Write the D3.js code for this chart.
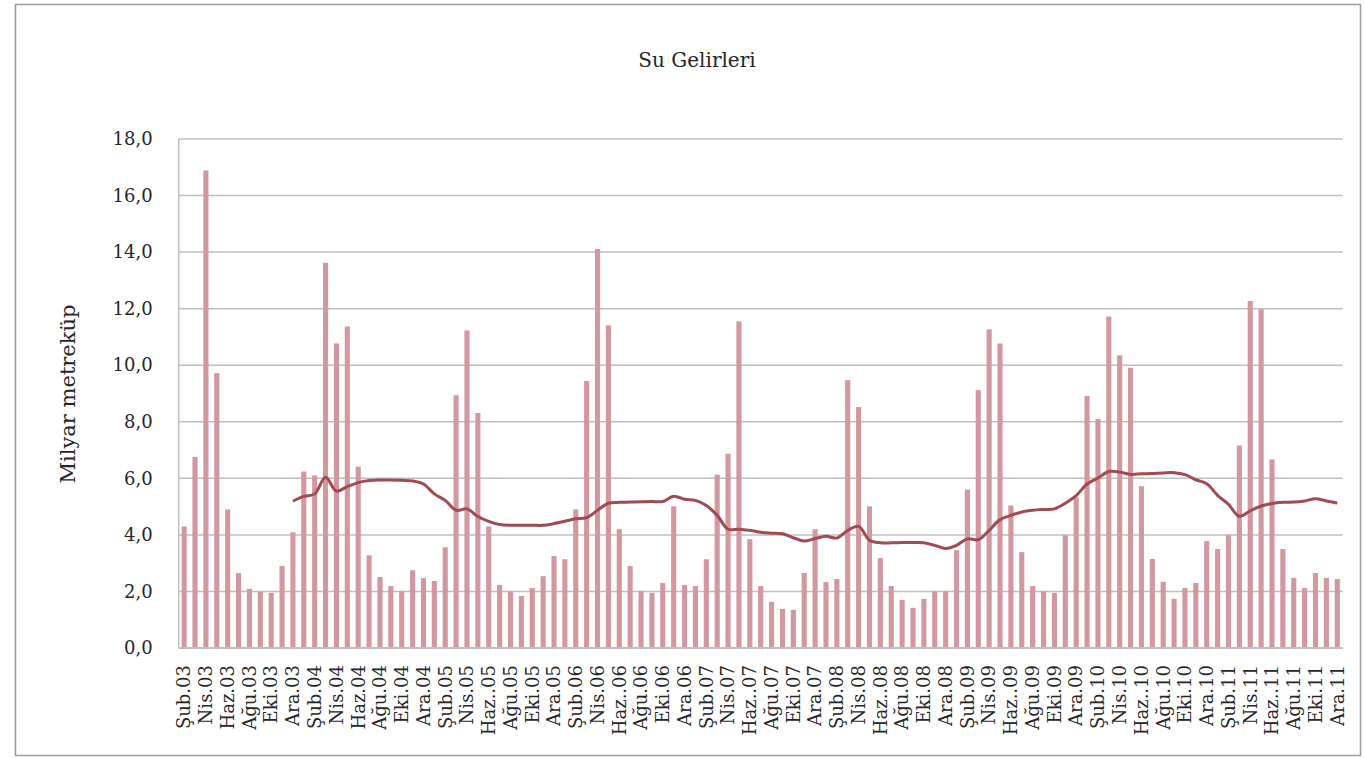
<!DOCTYPE html>
<html lang="tr">
<head>
<meta charset="UTF-8">
<title>Su Gelirleri</title>
<style>
    body {
        margin: 0;
        padding: 0;
        background-color: #fff;
    }
    svg text {
        font-family: "DejaVu Serif", serif;
        fill: #262626;
    }
</style>
</head>
<body>
<svg id="chart" width="1364" height="758"></svg>

<script src="https://d3js.org/d3.v7.min.js"></script>
<script>
    // kategoriler (Şub.03 - Ara.11)
    var categories = [
        "Şub.03", "Mar.03", "Nis.03", "May.03", "Haz.03", "Tem.03", "Ağu.03", "Eyl.03", "Eki.03", "Kas.03", "Ara.03",
        "Oca.04", "Şub.04", "Mar.04", "Nis.04", "May.04", "Haz.04", "Tem.04", "Ağu.04", "Eyl.04", "Eki.04", "Kas.04", "Ara.04",
        "Oca.05", "Şub.05", "Mar.05", "Nis.05", "May.05", "Haz..05", "Tem.05", "Ağu.05", "Eyl.05", "Eki.05", "Kas.05", "Ara.05",
        "Oca.06", "Şub.06", "Mar.06", "Nis.06", "May.06", "Haz..06", "Tem.06", "Ağu.06", "Eyl.06", "Eki.06", "Kas.06", "Ara.06",
        "Oca.07", "Şub.07", "Mar.07", "Nis.07", "May.07", "Haz..07", "Tem.07", "Ağu.07", "Eyl.07", "Eki.07", "Kas.07", "Ara.07",
        "Oca.08", "Şub.08", "Mar.08", "Nis.08", "May.08", "Haz..08", "Tem.08", "Ağu.08", "Eyl.08", "Eki.08", "Kas.08", "Ara.08",
        "Oca.09", "Şub.09", "Mar.09", "Nis.09", "May.09", "Haz..09", "Tem.09", "Ağu.09", "Eyl.09", "Eki.09", "Kas.09", "Ara.09",
        "Oca.10", "Şub.10", "Mar.10", "Nis.10", "May.10", "Haz..10", "Tem.10", "Ağu.10", "Eyl.10", "Eki.10", "Kas.10", "Ara.10",
        "Oca.11", "Şub.11", "Mar.11", "Nis.11", "May.11", "Haz..11", "Tem.11", "Ağu.11", "Eyl.11", "Eki.11", "Kas.11", "Ara.11"
    ];

    // aylık su geliri (milyar m3)
    var monthly = [
        4.30, 6.76, 16.89, 9.72, 4.90, 2.65, 2.09, 1.99, 1.95, 2.90, 4.09,
        6.24, 6.10, 13.62, 10.77, 11.37, 6.41, 3.28, 2.51, 2.19, 2.00, 2.75, 2.47,
        2.37, 3.56, 8.94, 11.23, 8.31, 4.30, 2.23, 2.00, 1.84, 2.12, 2.54, 3.25,
        3.14, 4.90, 9.44, 14.11, 11.41, 4.20, 2.90, 2.02, 1.95, 2.30, 5.01, 2.23,
        2.19, 3.14, 6.13, 6.87, 11.55, 3.85, 2.19, 1.63, 1.38, 1.35, 2.65, 4.20,
        2.33, 2.44, 9.47, 8.52, 5.01, 3.18, 2.19, 1.70, 1.42, 1.74, 2.00, 2.00,
        3.46, 5.60, 9.12, 11.27, 10.77, 5.04, 3.39, 2.19, 2.00, 1.95, 3.99, 5.33,
        8.91, 8.10, 11.72, 10.35, 9.91, 5.72, 3.15, 2.34, 1.74, 2.12, 2.30, 3.78,
        3.50, 3.99, 7.16, 12.27, 11.98, 6.67, 3.50, 2.48, 2.12, 2.65, 2.48, 2.44
    ];

    // hareketli ortalama (Ara.03'ten itibaren)
    var average = [
        null, null, null, null, null, null, null, null, null, null, 5.19,
        5.36, 5.45, 6.04, 5.55, 5.71, 5.85, 5.92, 5.94, 5.94, 5.93, 5.91, 5.80,
        5.45, 5.22, 4.87, 4.92, 4.65, 4.48, 4.37, 4.34, 4.34, 4.34, 4.34, 4.40,
        4.48, 4.57, 4.61, 4.87, 5.12, 5.15, 5.16, 5.17, 5.18, 5.18, 5.37, 5.26,
        5.22, 5.04, 4.69, 4.20, 4.20, 4.16, 4.09, 4.06, 4.04, 3.90, 3.78, 3.87,
        3.95, 3.89, 4.16, 4.30, 3.81, 3.72, 3.72, 3.73, 3.73, 3.72, 3.63, 3.52,
        3.63, 3.86, 3.83, 4.16, 4.54, 4.69, 4.81, 4.87, 4.90, 4.92, 5.12, 5.39,
        5.80, 6.01, 6.24, 6.22, 6.14, 6.16, 6.17, 6.19, 6.20, 6.13, 5.95, 5.81,
        5.40, 5.08, 4.66, 4.85, 5.02, 5.11, 5.15, 5.16, 5.20, 5.28, 5.20, 5.13
    ];

    var yTicks = [0, 2, 4, 6, 8, 10, 12, 14, 16, 18];

    var svg = d3.select("#chart");

    // çerçeve
    svg.append("rect")
        .attr("x", 15.5)
        .attr("y", 4.5)
        .attr("width", 1345)
        .attr("height", 751)
        .attr("fill", "none")
        .attr("stroke", "#9a9a9a")
        .attr("stroke-width", 1.5);

    var plotLeft = 178.7, plotRight = 1342.7, plotTop = 139, plotBottom = 648;

    var xScale = d3.scaleBand()
        .domain(categories)
        .range([plotLeft, plotRight])
        .paddingInner(0.53)
        .paddingOuter(0.265);

    var yScale = d3.scaleLinear()
        .domain([0, 18])
        .range([plotBottom, plotTop]);

    var fmt = d3.formatLocale({decimal: ",", thousands: ".", grouping: [3], currency: ["", ""]}).format(".1f");

    // yatay çizgiler
    svg.append("g")
        .selectAll("line")
        .data(yTicks)
        .join("line")
        .attr("x1", plotLeft)
        .attr("x2", plotRight)
        .attr("y1", d => yScale(d))
        .attr("y2", d => yScale(d))
        .attr("stroke", "#bfbfbf")
        .attr("stroke-width", 1.5);

    // sol eksen çizgisi
    svg.append("line")
        .attr("x1", plotLeft)
        .attr("x2", plotLeft)
        .attr("y1", plotTop)
        .attr("y2", plotBottom)
        .attr("stroke", "#bfbfbf")
        .attr("stroke-width", 1.5);

    var yAxis = d3.axisLeft(yScale)
        .tickValues(yTicks)
        .tickFormat(fmt)
        .tickSize(0)
        .tickPadding(26);

    svg.append("g")
        .attr("transform", "translate(" + plotLeft + ",0)")
        .call(yAxis)
        .call(g => g.select(".domain").remove())
        .selectAll("text")
        .attr("font-family", "DejaVu Serif")
        .attr("font-size", 18)
        .attr("fill", "#262626");

    // çubuklar
    svg.append("g")
        .selectAll("rect")
        .data(monthly)
        .join("rect")
        .attr("x", (d, i) => xScale(categories[i]))
        .attr("width", xScale.bandwidth())
        .attr("y", d => yScale(d))
        .attr("height", d => plotBottom - yScale(d))
        .attr("fill", "#d3979f");

    // alt eksen
    svg.append("line")
        .attr("x1", plotLeft)
        .attr("x2", plotRight)
        .attr("y1", plotBottom)
        .attr("y2", plotBottom)
        .attr("stroke", "#bfbfbf")
        .attr("stroke-width", 2);

    // ortalama çizgisi
    var line = d3.line()
        .defined(d => d != null)
        .x((d, i) => xScale(categories[i]) + xScale.bandwidth() / 2)
        .y(d => yScale(d))
        .curve(d3.curveCatmullRom);

    svg.append("path")
        .attr("d", line(average))
        .attr("fill", "none")
        .attr("stroke", "#a04a51")
        .attr("stroke-width", 3)
        .attr("stroke-linejoin", "round");

    // ay etiketleri (ikide bir)
    svg.append("g")
        .selectAll("text")
        .data(categories.filter((c, i) => i % 2 == 0))
        .join("text")
        .attr("transform", d => "translate(" + (xScale(d) + xScale.bandwidth() / 2) + ",665) rotate(-90)")
        .attr("text-anchor", "end")
        .attr("dy", "0.35em")
        .attr("font-size", 18)
        .text(d => d);

    // başlık
    svg.append("text")
        .attr("x", 697)
        .attr("y", 67)
        .attr("text-anchor", "middle")
        .attr("font-size", 20)
        .text("Su Gelirleri");

    svg.append("text")
        .attr("transform", "translate(75,394) rotate(-90)")
        .attr("text-anchor", "middle")
        .attr("font-size", 21)
        .text("Milyar metreküp");
</script>
</body>
</html>
